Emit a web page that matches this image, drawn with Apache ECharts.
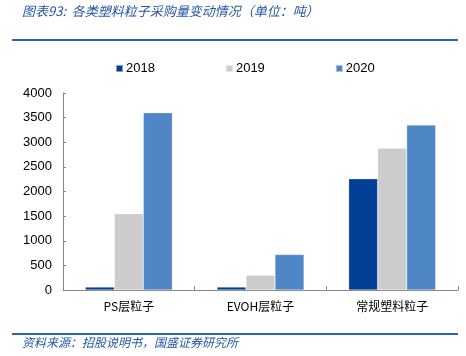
<!DOCTYPE html>
<html><head><meta charset="utf-8">
<script src="https://cdn.jsdelivr.net/npm/echarts@6/dist/echarts.min.js"></script>
<style>html,body{margin:0;padding:0;background:#fff}#c{width:466px;height:356px}</style>
</head><body><div id="c"></div>
<script>
const categories = ['PS层粒子', 'EVOH层粒子', '常规塑料粒子'];
const seriesNames = ['2018', '2019', '2020'];
const v2018 = [60, 60, 2260];
const v2019 = [1550, 300, 2880];
const v2020 = [3600, 720, 3350];
const yTicks = [0, 500, 1000, 1500, 2000, 2500, 3000, 3500, 4000];
const titleText = '图表93:  各类塑料粒子采购量变动情况（单位：吨）';
const sourceText = '资料来源：招股说明书，国盛证券研究所';
const colors = ['#003f96', '#cccccc', '#4f86c6'];

const chart = echarts.init(document.getElementById('c'), null, {renderer: 'canvas'});
const font = '"Liberation Sans", "DejaVu Sans", sans-serif';
const cjk = '"Noto Sans CJK SC", sans-serif';
const vals = [v2018, v2019, v2020];
chart.setOption({
  animation: false,
  color: colors,
  grid: {left: 63, right: 8, top: 93, bottom: 66, containLabel: false},
  legend: {
    data: seriesNames, top: 57, left: 110, itemWidth: 7, itemHeight: 7, itemGap: 70,
    icon: 'rect', textStyle: {fontFamily: font, fontSize: 13, color: '#000', padding: [0,0,0,-2]}
  },
  xAxis: {
    type: 'category', data: categories,
    axisLine: {lineStyle: {color: '#888', width: 1}},
    axisTick: {show: true, inside: true, length: 4, lineStyle: {color: '#888'}},
    axisLabel: {fontFamily: cjk, fontSize: 12, color: '#000', margin: 10}
  },
  yAxis: {
    type: 'value', min: yTicks[0], max: yTicks[yTicks.length-1], interval: 500,
    axisLine: {show: true, lineStyle: {color: '#888'}},
    axisTick: {show: true, inside: true, length: 3, lineStyle: {color: '#888'}},
    splitLine: {show: false},
    axisLabel: {fontFamily: font, fontSize: 13, color: '#000', margin: 11, formatter: v => String(v)}
  },
  series: seriesNames.map((n, i) => ({
    name: n, type: 'bar', data: vals[i], barWidth: 29, barGap: '0%',
    itemStyle: {borderColor: 'rgba(255,255,255,0.5)', borderWidth: 0.5}
  })),
  graphic: [
    {type: 'text', left: 22, top: 5, style: {text: titleText, font: 'italic 13px ' + cjk, fill: '#2556a8'}},
    {type: 'rect', shape: {x: 12, y: 39, width: 446, height: 2}, style: {fill: '#2f62b0'}},
    {type: 'rect', shape: {x: 12, y: 333, width: 446, height: 2}, style: {fill: '#2f62b0'}},
    {type: 'text', left: 22, top: 336, style: {text: sourceText, font: 'italic 12px ' + cjk, fill: '#2556a8'}}
  ]
});
</script></body></html>
